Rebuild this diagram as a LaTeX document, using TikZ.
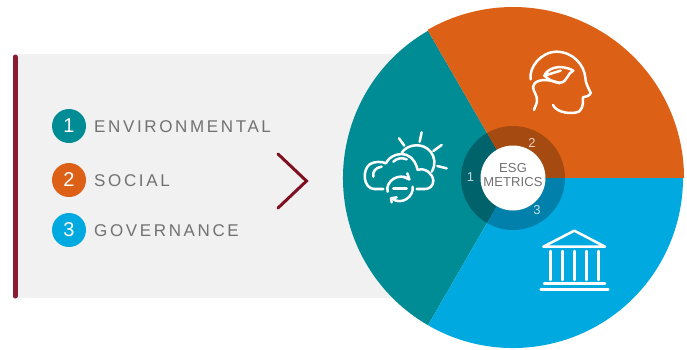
\documentclass[tikz,border=0pt]{standalone}
\usepackage{fontspec}
\setmainfont{Liberation Sans}
\newfontfamily\labelfont[LetterSpace=15.5]{Liberation Sans}
\newfontfamily\ringfont[LetterSpace=1]{Liberation Sans}
\definecolor{teal1}{HTML}{008C95}
\definecolor{orange1}{HTML}{DC6015}
\definecolor{blue1}{HTML}{00A9E0}
\definecolor{teal2}{HTML}{00626A}
\definecolor{orange2}{HTML}{A54A10}
\definecolor{blue2}{HTML}{0080AB}
\definecolor{panel}{HTML}{F1F1F1}
\definecolor{wine}{HTML}{8B1A33}
\definecolor{chev}{HTML}{7F1022}
\definecolor{txt}{HTML}{717171}
\tikzset{
  badge/.style={circle,minimum size=34pt,inner sep=0pt,text=white,font=\fontsize{20}{20}\selectfont},
  legend/.style={anchor=west,inner sep=0pt,text=txt,font=\labelfont\fontsize{17}{17}\selectfont},
  ringnum/.style={inner sep=0pt,text=white,opacity=.75,font=\fontsize{13}{13}\selectfont},
  icon/.style={draw=white,line width=2.5pt,line cap=round,line join=round},
}
\begin{document}
\begin{tikzpicture}[x=1pt,y=-1pt]
\useasboundingbox (0,0) rectangle (687,349);
% panel
\fill[panel] (15,54) rectangle (400,298);
\draw[wine,line width=5pt,line cap=round] (15,57) -- (15,296);
\coordinate (c) at (513,178);
% sectors
\fill[teal1] (c) -- ++(120:170pt) arc[start angle=120,end angle=240,radius=170pt] -- cycle;
\fill[orange1] (c) -- ++(0:171pt) arc[start angle=0,end angle=120,radius=171pt] -- cycle;
\fill[blue1] (c) -- ++(240:170pt) arc[start angle=240,end angle=360,radius=170pt] -- cycle;
\fill[teal2] (c) -- ++(120:52pt) arc[start angle=120,end angle=240,radius=52pt] -- cycle;
\fill[orange2] (c) -- ++(0:52pt) arc[start angle=0,end angle=120,radius=52pt] -- cycle;
\fill[blue2] (c) -- ++(240:52pt) arc[start angle=240,end angle=360,radius=52pt] -- cycle;
\node[circle,fill=white,minimum size=65pt,inner sep=0pt] (hub) at (c) {};
\node[inner sep=0pt,text=txt,font=\ringfont\fontsize{13}{14}\selectfont,align=center] (hubtext) at (513,175.5) {ESG\\METRICS};
\node[ringnum] (r1) at (470.5,177) {1};
\node[ringnum] (r2) at (532,142.5) {2};
\node[ringnum] (r3) at (537,210) {3};
% legend
\node[badge,fill=teal1] (b1) at (69,126) {1};
\node[badge,fill=orange1] (b2) at (69,180) {2};
\node[badge,fill=blue1] (b3) at (69,230) {3};
\node[legend] (l1) at (94,126.5) {ENVIRONMENTAL};
\node[legend] (l2) at (94,180.5) {SOCIAL};
\node[legend] (l3) at (94,230.5) {GOVERNANCE};
% chevron
\draw[chev,line width=3pt,line cap=round,line join=miter] (278,154) -- (306.5,181) -- (278,208);
% head icon
\begin{scope}[shift={(510,40)},x=.3333pt,y=-.3333pt]
\draw[icon] (62,118) .. controls (56,85) and (90,36) .. (140,35)
  .. controls (190,36) and (222,75) .. (226,112)
  .. controls (226,130) and (236,145) .. (242,158)
  .. controls (240,168) and (228,170) .. (219,172)
  .. controls (218,185) and (222,200) .. (208,214)
  .. controls (190,224) and (140,220) .. (129,195);
\draw[icon] (72,210) .. controls (76,195) and (84,190) .. (80,172)
  .. controls (76,155) and (62,145) .. (74,130)
  .. controls (88,116) and (120,118) .. (150,130);
\draw[icon] (103,107) .. controls (112,85) and (150,70) .. (190,92)
  .. controls (172,98) and (172,128) .. (150,128)
  .. controls (130,128) and (115,118) .. (103,107) -- (152,92);
\end{scope}
% cloud icon
\begin{scope}[shift={(350,120)},x=.3333pt,y=-.3333pt]
\draw[icon] (100,207) -- (72,207) .. controls (40,205) and (35,150) .. (60,132)
  .. controls (75,124) and (95,124) .. (108,130)
  .. controls (120,105) and (150,98) .. (170,105)
  .. controls (190,112) and (200,135) .. (203,150)
  .. controls (225,142) and (248,160) .. (250,182)
  .. controls (250,198) and (238,207) .. (225,207) -- (200,207);
\draw[icon] (155,98) .. controls (175,70) and (220,68) .. (242,95)
  .. controls (255,112) and (258,135) .. (245,155);
\draw[icon] (70,170) .. controls (66,155) and (78,142) .. (95,140);
\draw[icon] (130,125) .. controls (140,115) and (155,112) .. (170,118);
\draw[icon] (147,55) -- (163,77);
\draw[icon] (215,37) -- (209,65);
\draw[icon] (275,75) -- (250,93);
\draw[icon] (290,145) -- (262,138);
\draw[icon] (113,215) .. controls (105,185) and (145,155) .. (178,178);
\draw[icon] (160,170) -- (178,178) -- (172,160);
\draw[icon] (188,200) .. controls (192,230) and (155,258) .. (125,235);
\draw[icon] (140,232) -- (123,235) -- (125,247);
\draw[icon] (130,205) -- (170,205);
\end{scope}
% temple icon
\begin{scope}[shift={(525,220)},x=.3333pt,y=-.3333pt]
\draw[icon] (55,80) -- (148,32) -- (240,80) -- cycle;
\foreach \cx in {76,112,148,184,220} \draw[icon] (\cx,93) -- (\cx,180);
\draw[icon] (57,190) -- (240,190);
\draw[icon] (47,208) -- (250,208);
\end{scope}
\end{tikzpicture}
\end{document}
